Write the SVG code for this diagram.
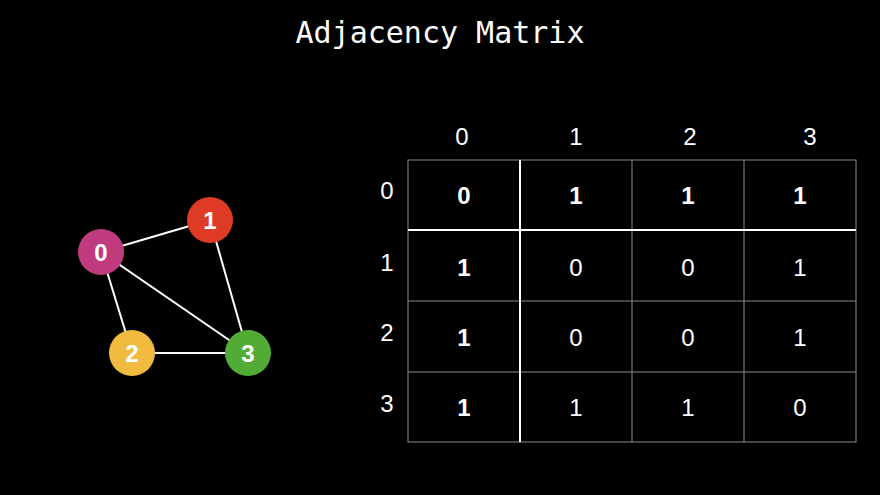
<svg xmlns="http://www.w3.org/2000/svg" width="880" height="495" viewBox="0 0 880 495">
<style>
.t{font-family:"Liberation Sans",Arial,sans-serif;fill:#fff;text-anchor:middle}
.b{font-weight:bold}
.g{stroke:#8a8a8a;stroke-width:1;fill:none}
.w{stroke:#fff;stroke-width:2}
.n{font-family:"Liberation Sans",Arial,sans-serif;fill:#fff;text-anchor:middle;font-size:24px;font-weight:bold}
</style>
<rect width="880" height="495" fill="#000"/>
<text x="440" y="43" font-family="'DejaVu Sans Mono',monospace" font-size="30" fill="#fff" text-anchor="middle">Adjacency Matrix</text>
<g id="connectors" stroke="#fff" stroke-width="2">
<line x1="101" y1="252" x2="210" y2="220"/>
<line x1="101" y1="252" x2="132" y2="353"/>
<line x1="101" y1="252" x2="248" y2="353"/>
<line x1="210" y1="220" x2="248" y2="353"/>
<line x1="132" y1="353" x2="248" y2="353"/>
</g>
<g id="node0"><circle cx="101" cy="252" r="23" fill="#c03a7e"/><text class="n" x="101" y="261">0</text></g>
<g id="node1"><circle cx="210" cy="220" r="23" fill="#dd3b26"/><text class="n" x="210" y="229">1</text></g>
<g id="node2"><circle cx="132" cy="353" r="23" fill="#f0bb3f"/><text class="n" x="132" y="362">2</text></g>
<g id="node3"><circle cx="248" cy="353" r="23" fill="#52ab35"/><text class="n" x="248" y="362">3</text></g>
<g id="matrix">
<rect class="g" x="408" y="160" width="448" height="282"/>
<line class="g" x1="632" y1="160" x2="632" y2="442"/>
<line class="g" x1="744" y1="160" x2="744" y2="442"/>
<line class="g" x1="408" y1="301" x2="856" y2="301"/>
<line class="g" x1="408" y1="372" x2="856" y2="372"/>
<line class="w" x1="408" y1="230" x2="856" y2="230"/>
<line class="w" x1="520" y1="160" x2="520" y2="442"/>
<g class="t" font-size="24">
<text x="462" y="145">0</text><text x="576" y="145">1</text><text x="690" y="145">2</text><text x="810" y="145">3</text>
<text x="387" y="199">0</text><text x="387" y="271">1</text><text x="387" y="341">2</text><text x="387" y="412">3</text>
</g>
<g class="t" font-size="24">
<text class="b" x="464" y="204">0</text><text class="b" x="576" y="204">1</text><text class="b" x="688" y="204">1</text><text class="b" x="800" y="204">1</text>
<text class="b" x="464" y="276">1</text><text x="576" y="276">0</text><text x="688" y="276">0</text><text x="800" y="276">1</text>
<text class="b" x="464" y="346">1</text><text x="576" y="346">0</text><text x="688" y="346">0</text><text x="800" y="346">1</text>
<text class="b" x="464" y="416">1</text><text x="576" y="416">1</text><text x="688" y="416">1</text><text x="800" y="416">0</text>
</g>
</g>
</svg>
